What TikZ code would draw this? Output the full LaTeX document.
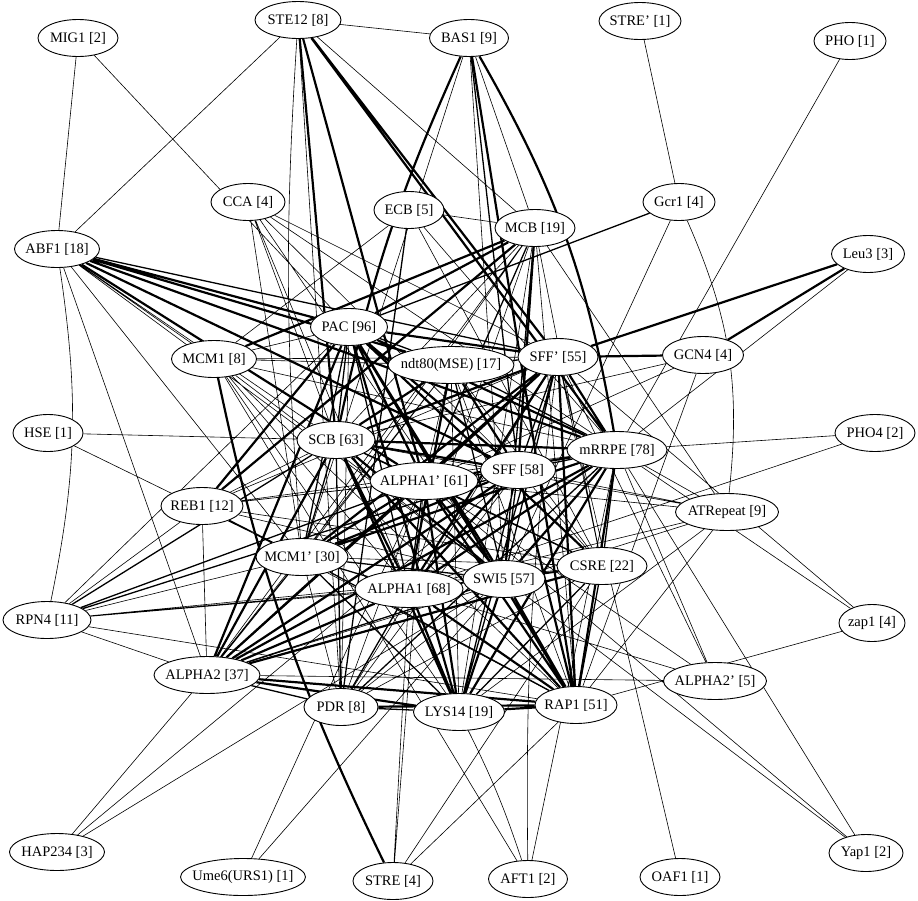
\documentclass[tikz,border=0pt]{standalone}
\usepackage{fontspec}
\setmainfont{Liberation Serif}
\usetikzlibrary{shapes.geometric,backgrounds}
\newcommand\mknode[4]{%
  \node[gnode, minimum width=#3pt] (#1) at (#2) {\makebox[0pt]{#4}};}
\tikzset{
  gnode/.style={ellipse, draw=black, line width=0.9pt, fill=white, inner sep=0pt,
    minimum height=37pt, font=\fontsize{14.5}{16}\selectfont},
  ea/.style={draw=black, line width=0.6pt},
  eb/.style={draw=black, line width=1.3pt},
  ec/.style={draw=black, line width=2.2pt},
}
\begin{document}
\begin{tikzpicture}[x=1pt,y=-1pt]
\useasboundingbox (0,0) rectangle (918,900);
\mknode{MIG}{78,38}{80}{MIG1 [2]}
\mknode{STE}{298,20}{86}{STE12 [8]}
\mknode{BAS}{469,38}{79}{BAS1 [9]}
\mknode{STREp}{640,21}{82}{STRE' [1]}
\mknode{PHO}{850,41}{72}{PHO [1]}
\mknode{CCA}{248,202}{74}{CCA [4]}
\mknode{ECB}{409,210}{70}{ECB [5]}
\mknode{MCB}{535,228}{80}{MCB [19]}
\mknode{Gcr}{679,202}{72}{Gcr1 [4]}
\mknode{ABF}{57,249}{85}{ABF1 [18]}
\mknode{Leu}{868,254}{73}{Leu3 [3]}
\mknode{PAC}{349,327}{77}{PAC [96]}
\mknode{MCM}{214,359}{85}{MCM1 [8]}
\mknode{ndt}{451,365}{126}{ndt80(MSE) [17]}
\mknode{SFFp}{558,357}{80}{SFF' [55]}
\mknode{GCN}{703,355}{81}{GCN4 [4]}
\mknode{HSE}{48,433}{70}{HSE [1]}
\mknode{SCB}{336,440}{78}{SCB [63]}
\mknode{mRR}{617,450}{100}{mRRPE [78]}
\mknode{PHOf}{875,433}{80}{PHO4 [2]}
\mknode{AOp}{424,481}{108}{ALPHA1' [61]}
\mknode{SFF}{518,470}{75}{SFF [58]}
\mknode{REB}{202,506}{82}{REB1 [12]}
\mknode{ATR}{727,512}{103}{ATRepeat [9]}
\mknode{MCMp}{302,557}{92}{MCM1' [30]}
\mknode{SWI}{504,579}{82}{SWI5 [57]}
\mknode{CSRE}{602,566}{90}{CSRE [22]}
\mknode{AO}{409,589}{108}{ALPHA1 [68]}
\mknode{RPN}{47,620}{88}{RPN4 [11]}
\mknode{zap}{872,623}{66}{zap1 [4]}
\mknode{AT}{207,675}{106}{ALPHA2 [37]}
\mknode{ATp}{715,681}{103}{ALPHA2' [5]}
\mknode{PDR}{341,707}{74}{PDR [8]}
\mknode{LYS}{459,712}{91}{LYS14 [19]}
\mknode{RAP}{576,705}{82}{RAP1 [51]}
\mknode{HAP}{57,852}{95}{HAP234 [3]}
\mknode{Ume}{243,877}{125}{Ume6(URS1) [1]}
\mknode{STRE}{393,881}{80}{STRE [4]}
\mknode{AFT}{528,879}{79}{AFT1 [2]}
\mknode{OAF}{680,877}{80}{OAF1 [1]}
\mknode{Yap}{866,853}{74}{Yap1 [2]}
\begin{pgfonlayer}{background}
\fill[white] (0,0) rectangle (918,900);
% thin connectors
\path[ea] (MIG)--(ABF) (MIG)--(PAC)
 (STE)--(ABF) (STE)--(BAS) (STE)--(MCB) (STE) to[bend right=4] (MCMp) (STE)--(PDR)
 (BAS)--(MCMp) (BAS)--(SWI) (BAS)--(MCB)
 (STREp)--(Gcr) (PHO)--(mRR)
 (CCA)--(SFFp) (CCA)--(mRR) (CCA)--(MCMp) (CCA)--(AO) (CCA)--(SFF) (CCA)--(SWI) (CCA)--(SCB)
 (ECB)--(MCB) (ECB)--(MCM) (ECB)--(CSRE) (ECB)--(mRR)
 (MCB)--(SCB) (MCB)--(MCMp) (MCB)--(AO) (MCB)--(RAP) (MCB)--(LYS) (MCB)--(AT) (MCB)--(CSRE) (MCB)--(ATR)
 (Gcr)--(SWI) (Gcr) to[bend left=15] (ATR)
 (ABF)--(SCB) (ABF) to[bend left=10] (RPN) (ABF)--(AT) (ABF)--(MCMp) (ABF)--(SWI) (ABF)--(MCM)
 (Leu)--(mRR)
 (GCN)--(SCB) (GCN)--(RAP) (GCN)--(AOp)
 (PHOf)--(mRR) (PHOf)--(AO)
 (HSE)--(SCB) (HSE)--(MCMp)
 (REB)--(SCB) (REB)--(SFF) (REB)--(mRR) (REB)--(AOp) (REB)--(AT) (REB)--(SWI) (REB)--(RAP) (REB)--(RPN) (REB)--(CSRE) (REB)--(MCMp)
 (MCM)--(AFT) (MCM)--(SFFp) (MCM)--(mRR) (MCM)--(SWI) (MCM)--(AO) (MCM)--(RAP) (MCM)--(LYS)
 (RPN)--(AT) (RPN)--(MCMp) (RPN)--(SWI) (RPN)--(AO) (RPN)--(CSRE) (RPN)--(PAC) (RPN)--(RAP)
 (HAP)--(AT) (HAP)--(SFF) (HAP)--(SWI)
 (Ume)--(AOp) (Ume)--(SWI)
 (STRE)--(AO) (STRE)--(AOp) (STRE)--(RAP) (STRE)--(CSRE)
 (AFT) to[bend left=4] (SFFp) (AFT)--(mRR) (AFT) to[bend right=4] (LYS)
 (OAF)--(SFFp)
 (Yap)--(SWI) (Yap)--(AOp) (Yap)--(mRR)
 (zap)--(RAP) (zap)--(SFFp) (zap)--(mRR)
 (ATp)--(AO) (ATp)--(AT) (ATp)--(AOp) (ATp)--(SFFp) (ATp)--(mRR)
 (ATR)--(mRR) (ATR)--(SFF) (ATR)--(AO) (ATR)--(SCB) (ATR)--(AOp) (ATR)--(RAP) (ATR)--(AT) (ATR)--(LYS)
 (PAC)--(PDR) (PAC)--(MCM) (ndt)--(AOp) (ndt)--(MCMp) (ndt)--(CSRE) (ndt)--(AT) (ndt)--(RAP) (ndt)--(LYS) (ndt)--(MCM)
 (SFFp)--(CSRE) (SFFp)--(PDR) (SFFp)--(REB) (AOp)--(PDR) (SFF)--(CSRE) (SFF)--(PDR)
 (MCMp)--(CSRE) (MCMp)--(PDR) (SWI)--(AO) (SWI)--(PDR) (CSRE)--(PDR);
% medium connectors
\path[eb] (BAS)--(SFF) (ECB)--(PDR) (MCB)--(AOp) (MCB)--(SWI) (Gcr)--(PAC) (ABF)--(SFFp)
 (PAC)--(ndt) (PAC)--(SCB) (PAC)--(MCMp) (PAC)--(AO)
 (ndt)--(SFFp) (ndt)--(mRR) (ndt)--(SWI)
 (SFFp)--(SFF) (SFFp)--(SWI) (SFFp)--(LYS)
 (SCB)--(AOp) (SCB)--(MCMp) (SCB)--(CSRE) (SCB)--(PDR)
 (mRR)--(SFF) (mRR)--(CSRE) (mRR)--(PDR)
 (AOp)--(SFF) (AOp)--(CSRE) (AOp)--(AO) (AOp)--(AT)
 (SFF)--(SWI) (SFF)--(LYS)
 (MCMp)--(SWI) (MCMp)--(AO) (MCMp)--(AT) (MCMp)--(LYS) (MCMp)--(RAP)
 (SWI)--(CSRE) (SWI)--(AT)
 (CSRE)--(AO) (CSRE)--(LYS) (CSRE)--(RAP)
 (AO)--(PDR) (AT)--(PDR) (PDR)--(LYS)
 (RPN)--(SCB) (RPN)--(AOp) (RPN)--(SFF);
% thick connectors
\path[ec] (STE)--(AOp) (STE)--(SFFp) (STE)--(mRR) (STE)--(SCB)
 (BAS) to[bend right=6] (SCB) (BAS)--(RAP) (BAS) to[bend left=10] (mRR)
 (MCB)--(PAC) (MCB)--(MCM) (MCB)--(REB) (MCB)--(SFF)
 (ABF)--(PAC) (ABF)--(ndt) (ABF)--(mRR) (ABF)--(SFF) (ABF)--(AOp)
 (Leu)--(SFFp) (Leu)--(GCN) (GCN)--(SFFp)
 (MCM) to[bend right=7] (STRE) (REB)--(PAC)
 (PAC)--(SFFp) (PAC)--(mRR) (PAC)--(AOp) (PAC)--(SFF) (PAC)--(SWI) (PAC)--(CSRE) (PAC)--(AT) (PAC)--(LYS) (PAC)--(RAP)
 (ndt)--(SCB) (ndt)--(SFF) (ndt)--(AO)
 (SFFp)--(SCB) (SFFp)--(mRR) (SFFp)--(AOp) (SFFp)--(MCMp) (SFFp)--(AO) (SFFp)--(AT) (SFFp)--(RAP)
 (SCB)--(mRR) (SCB)--(SFF) (SCB)--(SWI) (SCB)--(AO) (SCB)--(AT) (SCB)--(LYS) (SCB)--(RAP)
 (mRR)--(AOp) (mRR)--(MCMp) (mRR)--(SWI) (mRR)--(AO) (mRR)--(AT) (mRR)--(LYS) (mRR)--(RAP)
 (AOp)--(MCMp) (AOp)--(SWI) (AOp)--(LYS) (AOp)--(RAP)
 (SFF)--(MCMp) (SFF)--(AO) (SFF)--(AT) (SFF)--(RAP)
 (SWI)--(LYS) (SWI)--(RAP)
 (CSRE)--(AT) (AO)--(AT) (AO)--(LYS) (AO)--(RAP)
 (AT)--(LYS) (AT)--(RAP) (PDR)--(RAP) (LYS)--(RAP);
\end{pgfonlayer}
\end{tikzpicture}
\end{document}
